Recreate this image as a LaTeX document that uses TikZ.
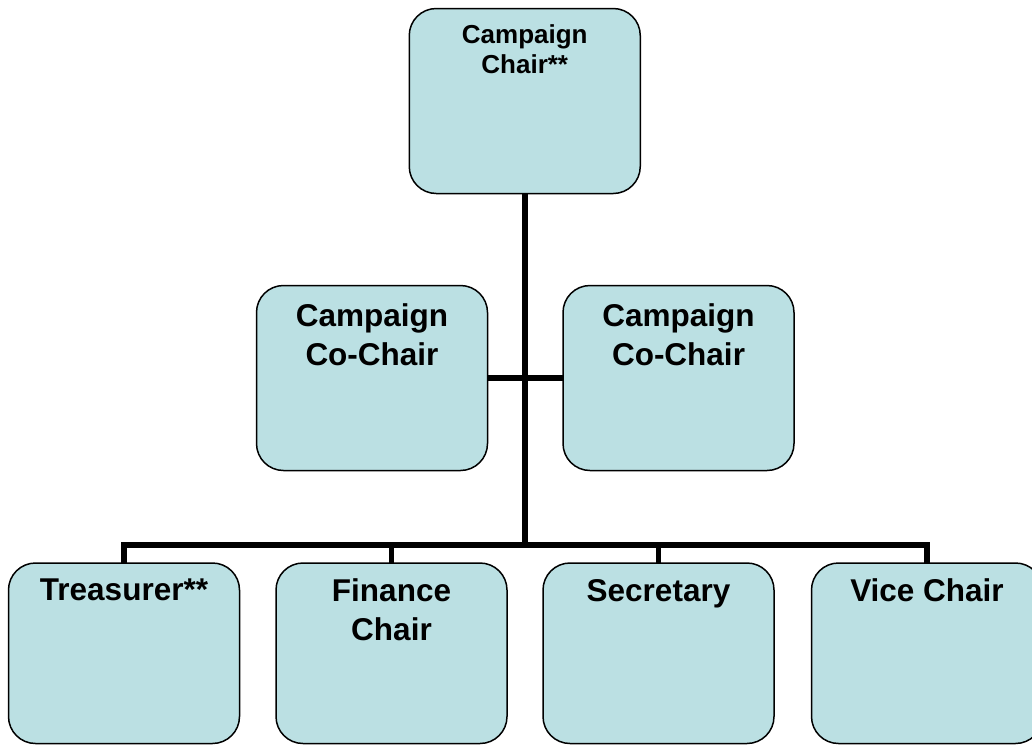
\documentclass[tikz,border=0pt]{standalone}
\usepackage{fontspec}
\usetikzlibrary{positioning}
% Arial-metric sans for all labels
\newfontfamily\labelface{Liberation Sans}
\definecolor{boxfill}{RGB}{187,224,227}
\begin{document}
\begin{tikzpicture}[x=1pt,y=-1pt,
  post/.style={draw=black, line width=1.5pt, fill=boxfill, rounded corners=27pt,
               minimum width=231pt, inner sep=0pt, outer sep=0pt},
  toppost/.style={post, minimum height=185pt},
  midpost/.style={post, minimum height=185pt},
  lowpost/.style={post, minimum height=180.5pt},
  title/.style={anchor=north, inner sep=0pt, outer sep=0pt, align=center, text=black},
  toptitle/.style={title, font=\labelface\bfseries\fontsize{26}{30}\selectfont},
  midtitle/.style={title, font=\labelface\bfseries\fontsize{31.5}{38.5}\selectfont},
  lowtitle/.style={title, font=\labelface\bfseries\fontsize{31.5}{39}\selectfont},
  link/.style={draw=black, line width=5.5pt, line join=miter}]

\useasboundingbox (0,0) rectangle (1032,745);
\clip (0,0) rectangle (1032,745);

% boxes
\node[toppost] (chair) at (524.75,101) {};
\node[midpost] (coleft) at (372,378) {};
\node[midpost] (coright) at (678.5,378) {};
\node[lowpost] (treas) at (124,653.25) {};
\node[lowpost] (fin) at (391.5,653.25) {};
\node[lowpost] (sec) at (658.5,653.25) {};
\node[lowpost] (vice) at (927,653.25) {};

% labels
\node[toptitle, below=16pt of chair.north] (chairtxt) {Campaign\\Chair**};
\node[midtitle, below=18.5pt of coleft.north] (colefttxt) {Campaign\\Co-Chair};
\node[midtitle, below=18.5pt of coright.north] (corighttxt) {Campaign\\Co-Chair};
\node[lowtitle, below=16pt of treas.north] (treastxt) {Treasurer**};
\node[lowtitle, below=16pt of fin.north] (fintxt) {Finance\\Chair};
\node[lowtitle, below=16pt of sec.north] (sectxt) {Secretary};
\node[lowtitle, below=16pt of vice.north] (vicetxt) {Vice Chair};

% connectors
\coordinate (hub) at (525,545);
\draw[link] (chair.south) -- (chair.south |- hub);
\draw[link] (coleft.east) -- (coright.west);
\draw[link] (treas.north) -- (treas.north |- hub) -- (vice.north |- hub) -- (vice.north);
\draw[link] (fin.north) -- (fin.north |- hub);
\draw[link] (sec.north) -- (sec.north |- hub);
\end{tikzpicture}
\end{document}
